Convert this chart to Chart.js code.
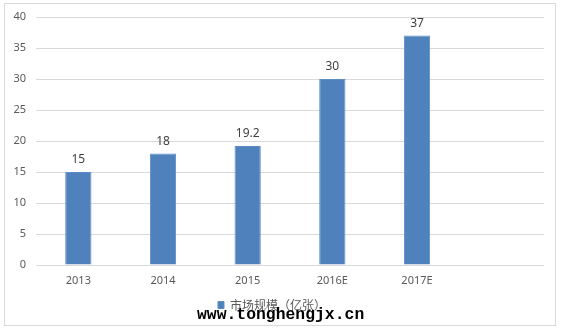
<!DOCTYPE html>
<html>
<head>
<meta charset="utf-8">
<script src="https://cdn.jsdelivr.net/npm/chart.js@4.4.1/dist/chart.umd.min.js"></script>
<style>
  html, body { margin: 0; padding: 0; background: #fff; }
  #wrap { position: relative; width: 563px; height: 333px; }
  #mark {
    position: absolute; left: 197px; top: 307px;
    font: bold 16.4px "Liberation Mono", monospace; line-height: 16px;
    color: #000; white-space: nowrap;
  }
</style>
</head>
<body>
<div id="wrap">
  <canvas id="chart" width="563" height="333"></canvas>
  <div id="mark">www.tonghengjx.cn</div>
</div>
<script>
const years = ["2013", "2014", "2015", "2016E", "2017E", ""];
const marketSize = [15, 18, 19.2, 30, 37, null];
const yTicks = [0, 5, 10, 15, 20, 25, 30, 35, 40];
const seriesName = "市场规模（亿张）";

const barBlue = "#4F81BD";
const textGray = "#595959";

// white page with the thin grey frame round the chart
const frame = {
  id: "frame",
  beforeDraw(chart) {
    const { ctx } = chart;
    ctx.save();
    ctx.fillStyle = "#fff";
    ctx.fillRect(0, 0, chart.width, chart.height);
    ctx.strokeStyle = "#d9d9d9";
    ctx.lineWidth = 1;
    ctx.strokeRect(4.5, 3.5, 551, 322);
    ctx.restore();
  },
};

// value above each bar
const valueLabels = {
  id: "valueLabels",
  afterDatasetsDraw(chart) {
    const { ctx } = chart;
    const meta = chart.getDatasetMeta(0);
    ctx.save();
    ctx.font = "12px 'Noto Sans', sans-serif";
    ctx.fillStyle = "#404040";
    ctx.textAlign = "center";
    ctx.textBaseline = "bottom";
    meta.data.forEach((bar, i) => {
      const v = marketSize[i];
      if (v == null) return;
      ctx.fillText(String(v), bar.x, bar.y - 6);
    });
    ctx.restore();
  },
};

new Chart(document.getElementById("chart"), {
  type: "bar",
  data: {
    labels: years,
    datasets: [
      {
        label: seriesName,
        data: marketSize,
        backgroundColor: barBlue,
        borderColor: "#5b8cc6",
        borderWidth: 1,
        barPercentage: 0.31,
        categoryPercentage: 1,
      },
    ],
  },
  options: {
    responsive: false,
    animation: false,
    layout: { padding: { top: 17, right: 19, left: 0, bottom: 12 } },
    plugins: {
      legend: {
        position: "bottom",
        labels: {
          boxWidth: 6,
          boxHeight: 7,
          padding: 4,
          color: textGray,
          font: { size: 12, family: "'Noto Sans CJK SC', sans-serif" },
        },
      },
      tooltip: { enabled: false },
    },
    scales: {
      x: {
        grid: { display: false, drawTicks: false },
        border: { display: false },
        ticks: {
          color: textGray,
          padding: 9,
          font: { size: 11, family: "'Noto Sans', sans-serif" },
        },
        afterFit(scale) { scale.height = 30; },
      },
      y: {
        min: 0,
        max: 40,
        afterBuildTicks(scale) { scale.ticks = yTicks.map(v => ({ value: v })); },
        grid: { color: "#d9d9d9", drawTicks: false },
        border: { display: false },
        ticks: {
          color: textGray,
          padding: 10,
          font: { size: 11, family: "'Noto Sans', sans-serif" },
        },
        afterFit(scale) { scale.width = 36; },
      },
    },
  },
  plugins: [frame, valueLabels],
});
</script>
</body>
</html>
